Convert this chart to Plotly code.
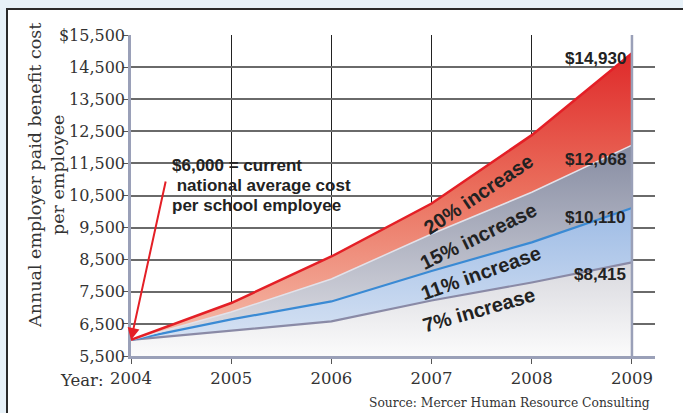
import plotly.graph_objects as go

years = [2004, 2005, 2006, 2007, 2008, 2009]
inc_7 = [6000, 6280, 6580, 7230, 7790, 8415]
inc_11 = [6000, 6640, 7200, 8150, 9040, 10110]
inc_15 = [6000, 6870, 7900, 9300, 10600, 12068]
inc_20 = [6000, 7150, 8600, 10250, 12380, 14930]
base = [5500] * len(years)

y_ticks = [5500, 6500, 7500, 8500, 9500, 10500, 11500, 12500, 13500, 14500, 15500]
y_ticktext = ["5,500", "6,500", "7,500", "8,500", "9,500", "10,500", "11,500",
              "12,500", "13,500", "14,500", "$15,500"]
x_ticktext = ["2004", "2005", "2006", "2007", "2008", "2009"]

end_labels = ["$8,415", "$10,110", "$12,068", "$14,930"]
band_labels = ["7% increase", "11% increase", "15% increase", "20% increase"]
note_lines = ["$6,000 = current", " national average cost", "per school employee"]

SERIF = "DejaVu Serif, serif"
BOLD = "Liberation Sans, Arial, sans-serif"

fig = go.Figure()
fig.add_trace(go.Scatter(x=years, y=base, mode="lines", line=dict(width=0),
                         hoverinfo="skip", showlegend=False))
fig.add_trace(go.Scatter(
    x=years, y=inc_7, mode="lines", fill="tonexty",
    line=dict(color="#8a8aa6", width=2.2),
    fillgradient=dict(type="vertical", start=5500, stop=8415,
                      colorscale=[[0, "#fbfbfb"], [1, "#d8d8de"]]),
    showlegend=False))
fig.add_trace(go.Scatter(
    x=years, y=inc_11, mode="lines", fill="tonexty",
    line=dict(color="#3a8ad4", width=2.2),
    fillgradient=dict(type="vertical", start=6000, stop=10110,
                      colorscale=[[0, "#d6e2f3"], [1, "#9dbbe5"]]),
    showlegend=False))
fig.add_trace(go.Scatter(
    x=years, y=inc_15, mode="lines", fill="tonexty",
    line=dict(color="#e2e2ea", width=1.5),
    fillgradient=dict(type="vertical", start=6000, stop=12068,
                      colorscale=[[0, "#dedee4"], [1, "#868ca2"]]),
    showlegend=False))
fig.add_trace(go.Scatter(
    x=years, y=inc_20, mode="lines", fill="tonexty",
    line=dict(color="#e41f26", width=2.5),
    fillgradient=dict(type="vertical", start=6500, stop=14930,
                      colorscale=[[0, "#f4b4a2"], [0.5, "#ea6e5c"], [1, "#df2a2a"]]),
    showlegend=False))

ann = []
for val, txt, ys in zip([inc_7[-1], inc_11[-1], inc_15[-1], inc_20[-1]], end_labels,
                        [-12, -9, -14, -5]):
    ann.append(dict(x=2009, y=val, text=txt, showarrow=False, xanchor="right",
                    yanchor="middle", xshift=-4, yshift=ys,
                    font=dict(family=BOLD, size=17, color="#222222", weight="bold")))
for (bx, by, ang), txt in zip([(2007.47, 6933, -16), (2007.49, 8086, -19.6),
                               (2007.47, 9238, -26), (2007.47, 10547, -34)], band_labels):
    ann.append(dict(x=bx, y=by, text=txt, showarrow=False, textangle=ang,
                    xanchor="center", yanchor="middle",
                    font=dict(family=BOLD, size=20, color="#222222", weight="bold")))
ann.append(dict(x=2004, y=6000, ax=35, ay=-160, text="", showarrow=True,
                arrowhead=2, arrowsize=1.2, arrowwidth=2, arrowcolor="#e41f26",
                standoff=0))
for line, (lx, ly) in zip(note_lines, [(170, 165), (170, 185), (170, 205)]):
    ann.append(dict(xref="paper", yref="paper", x=(lx - 131) / 524, y=(356 - ly) / 321,
                    text=line.replace(" ", "&nbsp;", 1) if line.startswith(" ") else line,
                    showarrow=False, xanchor="left", yanchor="middle", align="left",
                    font=dict(family=BOLD, size=17, color="#222222", weight="bold")))
ann.append(dict(xref="paper", yref="paper", x=(46 - 131) / 524, y=(356 - 176) / 321,
                text="Annual employer paid benefit cost<br>per employee", textangle=-90,
                showarrow=False, xanchor="center", yanchor="middle",
                font=dict(family=SERIF, size=17.5, color="#333333")))
ann.append(dict(xref="paper", yref="paper", x=(106 - 131) / 524, y=(356 - 381) / 321,
                text="Year:", showarrow=False, xanchor="right", yanchor="middle",
                font=dict(family=SERIF, size=16.5, color="#333333")))
ann.append(dict(xref="paper", yref="paper", x=(652 - 131) / 524, y=(356 - 403) / 321,
                text="Source: Mercer Human Resource Consulting", showarrow=False,
                xanchor="right", yanchor="middle",
                font=dict(family=SERIF, size=12.3, color="#333333")))

shapes = [
    dict(type="rect", xref="paper", yref="paper", x0=(7 - 131) / 524, x1=1.2,
         y0=-0.3, y1=(356 - 9) / 321, line=dict(color="#2a2a2a", width=2),
         fillcolor="white", layer="below"),
    dict(type="line", xref="x", yref="y", x0=2009, x1=2009, y0=5500, y1=15500,
         line=dict(color="#9aa0b8", width=2.5), layer="above"),
]

fig.update_layout(
    width=683, height=413,
    margin=dict(l=131, r=28, t=35, b=57),
    paper_bgcolor="#e7f1f8", plot_bgcolor="rgba(0,0,0,0)",
    annotations=ann, shapes=shapes,
    xaxis=dict(range=[2004, 2009.23], tickvals=years, ticktext=x_ticktext,
               showgrid=True, gridcolor="#222222", gridwidth=1,
               showline=True, linecolor="#9aa0b8", linewidth=2.5,
               ticks="outside", ticklen=5, tickcolor="#555555",
               tickfont=dict(family=SERIF, size=16.5, color="#333333"),
               zeroline=False, fixedrange=True),
    yaxis=dict(range=[5500, 15500], tickvals=y_ticks, ticktext=y_ticktext,
               showgrid=True, gridcolor="#6a6a6a", gridwidth=1.5,
               showline=True, linecolor="#9aa0b8", linewidth=2.5,
               ticks="outside", ticklen=5, tickcolor="#555555",
               ticklabelstandoff=-5,
               tickfont=dict(family=SERIF, size=16, color="#333333"),
               zeroline=False, fixedrange=True),
)

fig.write_html("out.html")
